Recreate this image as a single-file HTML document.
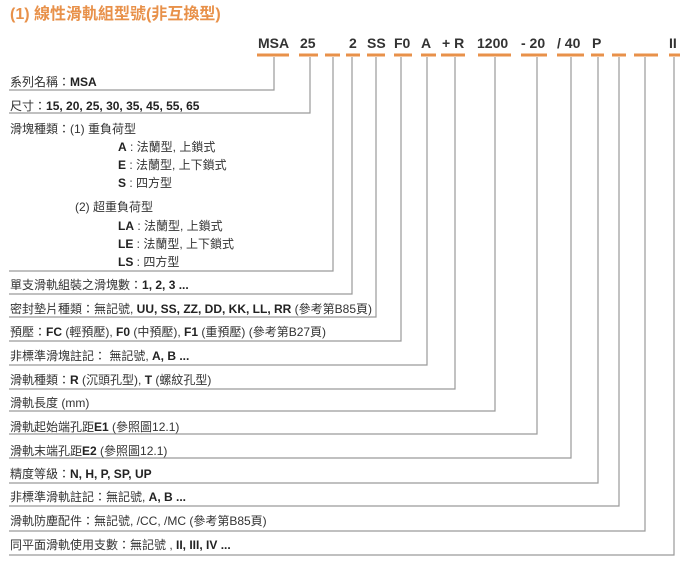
<!DOCTYPE html>
<html><head><meta charset="utf-8"><style>
html,body{margin:0;padding:0;background:#fff;}
svg{display:block;}
text{font-family:"Liberation Sans","Noto Sans CJK TC",sans-serif;}
.l{font-size:12px;fill:#333;}
.b{font-weight:bold;fill:#222;}
.c{font-size:14px;font-weight:bold;fill:#333;}
</style></head><body>
<svg width="700" height="571" viewBox="0 0 700 571" xmlns="http://www.w3.org/2000/svg">
<text x="10" y="19" font-size="16" font-weight="bold" fill="#e8914a">(1) 線性滑軌組型號(非互換型)</text>
<g class="c">
<text x="258" y="48">MSA</text><text x="300" y="48">25</text><text x="349" y="48">2</text>
<text x="367" y="48">SS</text><text x="394" y="48">F0</text><text x="421" y="48">A</text>
<text x="442" y="48">+ R</text><text x="477" y="48">1200</text><text x="521" y="48">- 20</text>
<text x="557" y="48">/ 40</text><text x="592" y="48">P</text><text x="669" y="48">II</text>
</g>
<g stroke="#e8914a" stroke-width="3">
<line x1="257" y1="55" x2="289" y2="55"/><line x1="299" y1="55" x2="318" y2="55"/>
<line x1="325" y1="55" x2="340" y2="55"/><line x1="346" y1="55" x2="360" y2="55"/>
<line x1="367" y1="55" x2="385" y2="55"/><line x1="394" y1="55" x2="412" y2="55"/>
<line x1="421" y1="55" x2="436" y2="55"/><line x1="441" y1="55" x2="465" y2="55"/>
<line x1="478" y1="55" x2="511" y2="55"/><line x1="521" y1="55" x2="547" y2="55"/>
<line x1="557" y1="55" x2="584" y2="55"/><line x1="591" y1="55" x2="604" y2="55"/>
<line x1="612" y1="55" x2="626" y2="55"/><line x1="634" y1="55" x2="658" y2="55"/>
<line x1="669" y1="55" x2="680" y2="55"/>
</g>
<g fill="none" stroke="#9a9a9a" stroke-width="1.2">
<polyline points="9,90 274,90 274,57"/>
<polyline points="9,113 310,113 310,57"/>
<polyline points="9,271 333,271 333,57"/>
<polyline points="9,294 352,294 352,57"/>
<polyline points="9,317 376,317 376,57"/>
<polyline points="9,341 401,341 401,57"/>
<polyline points="9,365 427,365 427,57"/>
<polyline points="9,389 455,389 455,57"/>
<polyline points="9,411 495,411 495,57"/>
<polyline points="9,434 537,434 537,57"/>
<polyline points="9,458 571,458 571,57"/>
<polyline points="9,483 598,483 598,57"/>
<polyline points="9,506 619,506 619,57"/>
<polyline points="9,531 645,531 645,57"/>
<polyline points="9,555 674,555 674,57"/>
</g>
<g class="l">
<text x="10" y="86">系列名稱：<tspan class="b">MSA</tspan></text>
<text x="10" y="110">尺寸：<tspan class="b">15, 20, 25, 30, 35, 45, 55, 65</tspan></text>
<text x="10" y="133">滑塊種類：(1) 重負荷型</text>
<text x="118" y="151"><tspan class="b">A</tspan> : 法蘭型, 上鎖式</text>
<text x="118" y="169"><tspan class="b">E</tspan> : 法蘭型, 上下鎖式</text>
<text x="118" y="187"><tspan class="b">S</tspan> : 四方型</text>
<text x="75" y="211">(2) 超重負荷型</text>
<text x="118" y="230"><tspan class="b">LA</tspan> : 法蘭型, 上鎖式</text>
<text x="118" y="248"><tspan class="b">LE</tspan> : 法蘭型, 上下鎖式</text>
<text x="118" y="266"><tspan class="b">LS</tspan> : 四方型</text>
<text x="10" y="289">單支滑軌組裝之滑塊數：<tspan class="b">1, 2, 3 ...</tspan></text>
<text x="10" y="313">密封墊片種類：無記號, <tspan class="b">UU, SS, ZZ, DD, KK, LL, RR</tspan> (參考第B85頁)</text>
<text x="10" y="336">預壓：<tspan class="b">FC</tspan> (輕預壓), <tspan class="b">F0</tspan> (中預壓), <tspan class="b">F1</tspan> (重預壓) (參考第B27頁)</text>
<text x="10" y="360">非標準滑塊註記： 無記號, <tspan class="b">A, B ...</tspan></text>
<text x="10" y="384">滑軌種類：<tspan class="b">R</tspan> (沉頭孔型), <tspan class="b">T</tspan> (螺紋孔型)</text>
<text x="10" y="407">滑軌長度 (mm)</text>
<text x="10" y="431">滑軌起始端孔距<tspan class="b">E1</tspan> (參照圖12.1)</text>
<text x="10" y="455">滑軌末端孔距<tspan class="b">E2</tspan> (參照圖12.1)</text>
<text x="10" y="478">精度等級：<tspan class="b">N, H, P, SP, UP</tspan></text>
<text x="10" y="501">非標準滑軌註記：無記號, <tspan class="b">A, B ...</tspan></text>
<text x="10" y="525">滑軌防塵配件：無記號, /CC, /MC (參考第B85頁)</text>
<text x="10" y="549">同平面滑軌使用支數：無記號 , <tspan class="b">II, III, IV ...</tspan></text>
</g>
</svg>
</body></html>
